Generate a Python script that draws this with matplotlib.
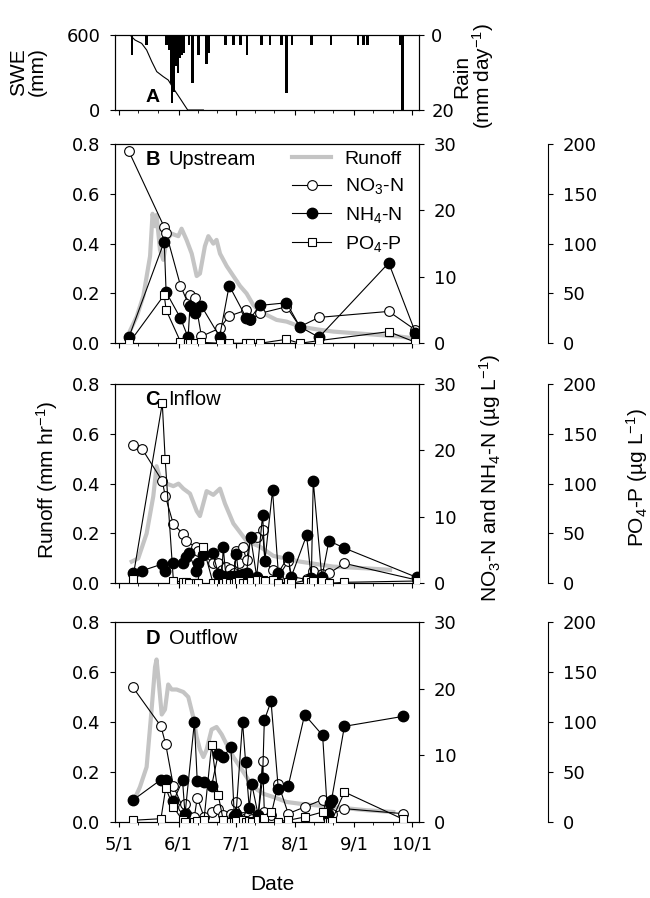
import numpy as np
import matplotlib.pyplot as plt

plt.rcParams['font.family'] = ['Liberation Sans', 'DejaVu Sans']
plt.rcParams['mathtext.default'] = 'regular'

# x values are day of year (5/1 = 121)
month_days = [121, 152, 182, 213, 244, 274]
month_labels = ['5/1', '6/1', '7/1', '8/1', '9/1', '10/1']

# Panel A: snow water equivalent and rain
swe_day = [126.6, 129.2, 132.7, 135.3, 138.0, 140.6, 144.0, 146.6, 149.3, 152.8, 155.4, 156.8, 165]
swe_mm = [600, 560, 533, 480, 387, 307, 267, 240, 173, 93, 32, 0, 0]

rain_day = [127.6, 135.3, 145.8, 147.2, 148.1, 148.7, 149.6, 150.5, 151.6, 152.4, 153.7, 154.5,
            157.5, 159.4, 162.5, 166.7, 167.8, 176.7, 180.7, 184.5, 187.7, 195.5, 199.9, 206.0,
            208.6, 211.5, 221.7, 231.8, 245.8, 248.7, 250.8, 267.9, 269.1]
rain_mm = [5.2, 2.7, 2.7, 4.0, 12.9, 18.0, 15.1, 8.3, 10.2, 6.2, 5.3, 4.9,
           2.7, 12.9, 5.3, 7.8, 4.9, 2.7, 2.7, 2.7, 5.2, 2.7, 2.7, 2.7,
           15.4, 2.7, 2.7, 2.7, 2.7, 2.7, 2.7, 2.7, 20]

# Panel B: upstream
runoff_b_day = [126.6, 130.1, 133.6, 137.1, 138.4, 139.7, 140.5, 142.3, 144.0, 145.8, 148.4, 151.9,
                153.6, 156.2, 158.9, 161.5, 163.2, 165.8, 167.6, 170.2, 171.9, 173.7, 177.2, 180.7,
                184.2, 187.6, 191.1, 194.6, 198.1, 203.3, 208.6, 215.6, 224.3, 233.0, 250.4, 267.9, 274.9]
runoff_b = [0.05, 0.107, 0.19, 0.35, 0.52, 0.47, 0.515, 0.375, 0.335, 0.415, 0.44, 0.43,
            0.46, 0.415, 0.36, 0.27, 0.28, 0.39, 0.43, 0.40, 0.415, 0.36, 0.31, 0.27,
            0.23, 0.20, 0.154, 0.127, 0.114, 0.094, 0.087, 0.067, 0.056, 0.047, 0.037, 0.027, 0.02]
b_day = [126, 144.5, 145.5, 153, 157, 158, 160.5, 164, 173.5, 178.5, 187.5, 189.5, 194.5,
         208.5, 215.5, 225.5, 262, 276]
b_no3 = [28.9, 17.5, 16.6, 8.7, 6.0, 7.3, 6.8, 1.05, 2.26, 4.1, 5.0, 3.5, 4.5, 5.5, 2.5, 3.9, 4.8, 2.0]
b_nh4 = [0.9, 15.3, 7.7, 3.8, 0.9, 5.6, 4.6, 5.6, 1.0, 8.7, 3.8, 3.7, 5.7, 6.1, 2.5, 0.9, 12.1, 1.6]
b_po4 = [0, 48.5, 33.4, 1.7, 0, 0, 0, 1, 0, 0, 0, 0, 0, 4, 0, 2.7, 11.7, 1]

# Panel C: inflow
runoff_c_day = [127.5, 130.9, 135.3, 138.8, 140.5, 143.2, 145.8, 149.3, 152, 154.5, 158.0, 161.5,
                163.2, 166.7, 170.2, 173.7, 176.3, 180.7, 187.6, 194.6, 201.6, 215.6, 233.0, 250.4, 262.7]
runoff_c = [0.087, 0.10, 0.2, 0.35, 0.47, 0.40, 0.40, 0.39, 0.40, 0.38, 0.36, 0.29,
            0.27, 0.37, 0.355, 0.38, 0.32, 0.24, 0.17, 0.147, 0.11, 0.087, 0.067, 0.06, 0.054]
c_day = [128, 133, 143.5, 145, 149.3, 154.5, 156, 157.6, 161, 162, 165, 170, 172.8, 174.6, 175.4,
         176.8, 178.9, 181, 182.2, 183.5, 185.6, 187.6, 189.7, 192.9, 196, 197.2, 201.2, 204.2,
         209.4, 211, 219, 221.5, 222.5, 227, 230.7, 238.8, 276.6]
c_no3 = [20.8, 20.2, 15.4, 13.2, 8.9, 7.4, 6.3, np.nan, 5.5, 4.8, 4.4, 3.0, 3.1, 2.0, 1.5,
         2.5, 2.2, 1.5, 4.8, 3.0, 5.5, 3.5, 6.8, 7.0, 8.0, 3.3, 2.0, 1.0,
         3.3, 1.0, 0.6, 1.0, 1.9, 1.4, 1.5, 3.0, 0.5]
c_nh4 = [1.5, 1.9, 2.9, 1.9, 3.1, 3.1, 3.9, 4.5, 1.8, 3.1, 4.3, 4.5, 1.4, 1.1, 5.4,
         1.0, 1.1, 1.1, 4.4, 1.2, 1.35, 1.5, 7.0, 1.0, 10.3, 3.4, 14.0, 1.6,
         4.0, 1.0, 7.2, 0.8, 15.4, 0.9, 6.4, 5.3, 0.9]
c_po4 = [4, np.nan, 180.6, 124.4, 2.7, 1, 1.7, 0, 0, 0, 36, 0.7, 0, 0, 0,
         1, 0, 0, 1, 2, 0, 0, 2, 3, 3, 2, 3, 0,
         1, 0, 3, 1, 2.7, 2, 0, 1, 2.3]

# Panel D: outflow
runoff_d_day = [128.3, 131.8, 135.3, 137.9, 139.7, 140.5, 141.4, 143.2, 144.9, 146.6, 148.4, 151.0,
                154.5, 157.1, 159.7, 161.5, 163.2, 165.0, 166.7, 169.3, 171.9, 174.6, 177.2, 180.7,
                184.2, 187.6, 191.1, 196.4, 201.6, 208.6, 215.6, 233.0, 250.4, 264.4]
runoff_d = [0.08, 0.14, 0.22, 0.45, 0.62, 0.65, 0.58, 0.43, 0.45, 0.55, 0.53, 0.53,
            0.52, 0.50, 0.42, 0.34, 0.29, 0.26, 0.29, 0.37, 0.38, 0.35, 0.31, 0.26,
            0.22, 0.18, 0.14, 0.113, 0.10, 0.08, 0.073, 0.06, 0.047, 0.04]
d_day = [128, 142.8, 145.3, 149.3, 154.1, 155.4, 160.3, 161.8, 165.3, 169.3, 172.8, 175.4,
         179.4, 181.2, 182.1, 185.5, 187.1, 189.0, 190.3, 193.7, 196.0, 196.9, 200.4, 204.2,
         209.4, 218, 227.4, 230.0, 231.3, 232.1, 238.8, 269.6]
d_no3 = [20.25, 14.35, 11.65, 5.4, 2.25, 2.7, 0.8, 3.65, 0.8, 1.5, 2.0, 1.0,
         1.2, 0.5, 3.0, 0.8, 0.6, 1.0, 0.5, 1.0, 9.15, 1.5, 1.0, 5.75,
         1.25, 2.25, 3.35, 0.6, 0.8, 1.2, 2.0, 1.25]
d_nh4 = [3.25, 6.35, 6.35, 3.1, 6.25, 1.15, 15.0, 6.1, 6.0, 5.4, 10.25, 9.75,
         11.25, 0.9, 1.25, 15.0, 9.0, 2.15, 5.75, 1.0, 6.65, 15.25, 18.1, 5.0,
         5.4, 16.1, 13.0, 1.15, 2.85, 3.35, 14.35, 15.85]
d_po4 = [1.7, 3.3, 34, 15, 1.7, 0, 0, 0.7, 1.7, 76.7, 26.7, 1.7,
         0, 0, 1, 2, 0, 1, 0, 2, 3, 4, 10, 0.5,
         1.7, 5, 10, 0, 0.5, 1, 30, 2.7]

fig = plt.figure(figsize=(6.5, 8.98), dpi=100)
W, H = 650, 898
left, right = 115 / W, 419.3 / W
xlim = (118.75, 278)
minor_days = [131, 141, 162, 172, 192, 202, 223, 233, 254, 264]
tick_font = dict(family='DejaVu Sans', size=13)
label_size = 15


def style_x(ax, labels):
    ax.set_xlim(xlim)
    ax.set_xticks(month_days)
    ax.set_xticks(minor_days, minor=True)
    if labels:
        ax.set_xticklabels(month_labels, fontdict=tick_font)
    else:
        ax.set_xticklabels([])
    ax.tick_params(axis='x', which='major', direction='out', length=3.6, width=0.8, pad=6)
    ax.tick_params(axis='x', which='minor', direction='out', length=2, width=0.6)


def add_ax(top, bottom):
    return fig.add_axes([left, 1 - bottom / H, right - left, (bottom - top) / H])


def tick_labels(ax, ticks, fmt, pad=7):
    ax.set_yticks(ticks)
    ax.set_yticklabels([fmt.format(t) for t in ticks], fontdict=tick_font)
    ax.tick_params(axis='y', direction='out', length=3.6, width=0.8, pad=pad)


# ---- Panel A
ax_a = add_ax(35, 110)
ax_a.plot(swe_day, swe_mm, color='black', lw=0.8)
ax_a.set_ylim(0, 600)
tick_labels(ax_a, [0, 600], '{:d}')
style_x(ax_a, False)
ax_r = ax_a.twinx()
ax_r.bar(rain_day, rain_mm, width=1.3, color='black')
ax_r.set_ylim(20, 0)
tick_labels(ax_r, [0, 20], '{:d}', pad=5)
ax_r.set_xlim(xlim)
ax_a.text(0.1, 0.17, 'A', transform=ax_a.transAxes, fontsize=14, weight='bold', va='center')


def panel(top, bottom, run_day, run, day, no3, nh4, po4, letter, name, xlabels=False, legend=False):
    ax = add_ax(top, bottom)
    ax.plot(run_day, run, color='#c4c4c4', lw=3, label='Runoff')
    ax.set_ylim(0, 0.8)
    tick_labels(ax, [0, 0.2, 0.4, 0.6, 0.8], '{:.1f}')
    style_x(ax, xlabels)

    axn = ax.twinx()
    axn.set_ylim(0, 30)
    tick_labels(axn, [0, 10, 20, 30], '{:d}')
    day = np.array(day)
    no3, nh4, po4 = np.array(no3), np.array(nh4), np.array(po4)
    m = ~np.isnan(no3)
    l1, = axn.plot(day[m], no3[m], color='black', lw=0.8, marker='o', ms=7, mfc='white',
                   mec='black', mew=0.8, label='NO$_3$-N')
    m = ~np.isnan(nh4)
    l2, = axn.plot(day[m], nh4[m], color='black', lw=0.8, marker='o', ms=7.5, mfc='black',
                   mec='black', label='NH$_4$-N')
    axn.set_xlim(xlim)

    axp = ax.twinx()
    axp.set_ylim(0, 200)
    axp.spines['right'].set_position(('axes', 1.423))
    for s in ['top', 'bottom', 'left']:
        axp.spines[s].set_visible(False)
    tick_labels(axp, [0, 50, 100, 150, 200], '{:d}')
    m = ~np.isnan(po4)
    l3, = axp.plot(day[m], po4[m], color='black', lw=0.8, marker='s', ms=6, mfc='white',
                   mec='black', mew=0.8, label='PO$_4$-P')
    axp.set_xlim(xlim)

    ax.text(0.099, 0.92, letter, transform=ax.transAxes, fontsize=14.5, weight='bold', va='center')
    ax.text(0.176, 0.92, name, transform=ax.transAxes, fontsize=14.5, va='center')
    if legend:
        lr = ax.get_lines()[0]
        axp.legend([lr, l1, l2, l3], ['Runoff', 'NO$_3$-N', 'NH$_4$-N', 'PO$_4$-P'],
                   loc='upper left', bbox_to_anchor=(0.55, 1.018), frameon=False, fontsize=14,
                   handlelength=2.0, handletextpad=0.7, labelspacing=0.45, borderpad=0,
                   numpoints=1)
    return ax


panel(144, 343.3, runoff_b_day, runoff_b, b_day, b_no3, b_nh4, b_po4, 'B', 'Upstream', legend=True)
panel(384, 583.3, runoff_c_day, runoff_c, c_day, c_no3, c_nh4, c_po4, 'C', 'Inflow')
panel(622, 822, runoff_d_day, runoff_d, d_day, d_no3, d_nh4, d_po4, 'D', 'Outflow', xlabels=True)

fig.text(28 / W, 1 - 72 / H, 'SWE\n(mm)', rotation=90, ha='center', va='center',
         fontsize=label_size, linespacing=1.0)
fig.text(474 / W, 1 - 76 / H, 'Rain\n(mm day$^{-1}$)', rotation=90, ha='center', va='center',
         fontsize=label_size, linespacing=0.95)
fig.text(47 / W, 1 - 480 / H, 'Runoff (mm hr$^{-1}$)', rotation=90, ha='center', va='center',
         fontsize=label_size)
fig.text(490 / W, 1 - 478 / H, 'NO$_3$-N and NH$_4$-N (µg L$^{-1}$)', rotation=90, ha='center',
         va='center', fontsize=label_size)
fig.text(637 / W, 1 - 478 / H, 'PO$_4$-P (µg L$^{-1}$)', rotation=90, ha='center', va='center',
         fontsize=label_size)
fig.text(272 / W, 1 - 885 / H, 'Date', ha='center', va='center', fontsize=label_size)

fig.savefig('out.png', dpi=100)
